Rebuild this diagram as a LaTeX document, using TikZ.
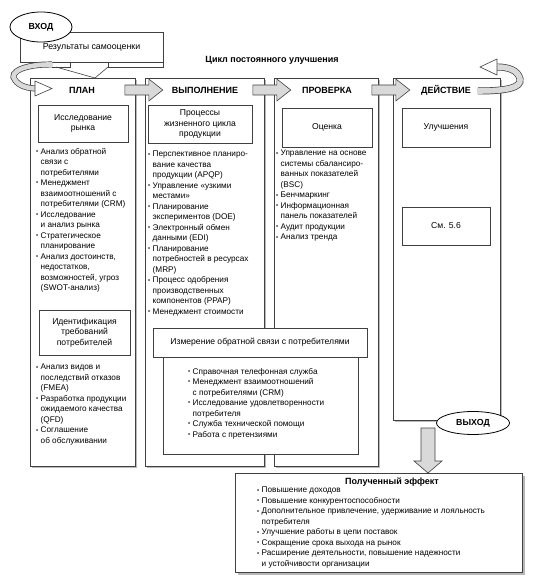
\documentclass[tikz,border=0pt]{standalone}
\usepackage{fontspec}
\setmainfont{Liberation Sans}
\usetikzlibrary{shapes.geometric,shadows,calc}

\newcommand{\bl}{\makebox[4.5pt][l]{\raisebox{.8pt}{\fontsize{6}{6}\selectfont\textbullet}}}
\newcommand{\nx}{\hspace*{4.5pt}}

\tikzset{
  box/.style={draw=black!75, fill=white, line width=.6pt, inner sep=0pt},
  colbox/.style={box, anchor=north west, line width=.8pt,
    drop shadow={shadow xshift=1.2pt, shadow yshift=-1.2pt, fill=black!45, opacity=.6}},
  inbox/.style={box, align=center, font=\fontsize{8.6}{10.4}\selectfont},
  head/.style={font=\fontsize{9}{10}\selectfont\bfseries},
  lst/.style={anchor=north west, inner sep=0pt, align=left, font=\fontsize{8.2}{10.5}\selectfont},
  garrow/.style={draw=black!75, fill=gray!30, line width=.6pt},
  oval/.style={ellipse, draw=black, fill=white, line width=.8pt, inner sep=0pt,
    font=\fontsize{8.8}{10}\selectfont\bfseries},
  garr/.pic={\draw[garrow] (0,-5) -- (24,-5) -- (24,-11) -- (38,0) -- (24,11) -- (24,5) -- (0,5) -- cycle;}
}

\begin{document}
\begin{tikzpicture}[x=1pt, y=-1pt]
  \useasboundingbox (0,0) rectangle (538,585);

  % columns
  \node[colbox, minimum width=105pt, minimum height=388pt] (plan) at (30,78) {};
  \node[colbox, minimum width=119pt, minimum height=388pt] (vyp) at (145,78) {};
  \node[colbox, minimum width=104pt, minimum height=388pt] (prov) at (274,78) {};
  \node[colbox, minimum width=107pt, minimum height=342pt] (deyst) at (393,78) {};

  \node[head] (planT) at (82,90) {ПЛАН};
  \node[head] (vypT) at (205,90) {ВЫПОЛНЕНИЕ};
  \node[head] (provT) at (327,90) {ПРОВЕРКА};
  \node[head] (deystT) at (446,90) {ДЕЙСТВИЕ};

  \pic at ([xshift=-11pt, yshift=-12pt]plan.north east) {garr};
  \pic at ([xshift=-12pt, yshift=-12pt]vyp.north east) {garr};
  \pic at ([xshift=-7pt, yshift=-12pt]prov.north east) {garr};

  \node[font=\fontsize{9}{10}\selectfont\bfseries] (cycle) at (272,60) {Цикл постоянного улучшения};

  % input
  \node[box, minimum width=143pt, minimum height=30pt, font=\fontsize{8.8}{10}\selectfont] (rez) at (91.5,47) {Результаты самооценки};
  \draw[black!75, line width=.6pt] (52,67) -- (70,67) -- (70,62);
  \draw[black!75, line width=.6pt] (108,62) -- (108,67) -- (163,67) -- (163,62);
  \draw[black!75, line width=.6pt] (56,67) -- (95,78) -- (108,67);
  \node[oval, minimum width=62pt, minimum height=30pt] (vhod) at (41,27) {ВХОД};

  % loop arrows
  \draw[line width=6pt, black!75] (52,64.5) .. controls (25,64) and (8,72) .. (15,80) .. controls (19,86) and (28,88.5) .. (37,88.5);
  \draw[line width=4.6pt, gray!30] (52.5,64.5) .. controls (25,64) and (8,72) .. (15,80) .. controls (19,86) and (28,88.5) .. (37,88.5);
  \draw[black!75, fill=white, line width=.6pt] (35,81) -- (52,88.5) -- (35,96) -- cycle;

  \draw[line width=7pt, black!75] (478,91) .. controls (505,91) and (522,88) .. (520,79) .. controls (518,70) and (508,67) .. (497,67);
  \draw[line width=5.6pt, gray!30] (477,91) .. controls (505,91) and (522,88) .. (520,79) .. controls (518,70) and (508,67) .. (497,67);
  \draw[black!75, fill=white, line width=.6pt] (497,59) -- (480,67) -- (497,75) -- cycle;

  % ПЛАН
  \node[inbox, minimum width=90pt, minimum height=37pt] (rynok) at (83,123.5) {Исследование\\рынка};
  \node[lst] (planL) at (36,148) {\bl Анализ обратной\\\nx связи с\\\nx потребителями\\\bl Менеджмент\\\nx взаимоотношений с\\\nx потребителями (CRM)\\\bl Исследование\\\nx и анализ рынка\\\bl Стратегическое\\\nx планирование\\\bl Анализ достоинств,\\\nx недостатков,\\\nx возможностей, угроз\\\nx (SWOT-анализ)};
  \node[inbox, minimum width=91pt, minimum height=45pt] (trebov) at (84.5,332.5) {Идентификация\\требований\\потребителей};
  \node[lst] (planL2) at (36,364) {\bl Анализ видов и\\\nx последствий отказов\\\nx (FMEA)\\\bl Разработка продукции\\\nx ожидаемого качества\\\nx (QFD)\\\bl Соглашение\\\nx об обслуживании};

  % ВЫПОЛНЕНИЕ
  \node[inbox, minimum width=104pt, minimum height=38pt] (proc) at (200,124) {Процессы\\жизненного цикла\\продукции};
  \node[lst] (vypL) at (148,151) {\bl Перспективное планиро-\\\nx вание качества\\\nx продукции (APQP)\\\bl Управление «узкими\\\nx местами»\\\bl Планирование\\\nx экспериментов (DOE)\\\bl Электронный обмен\\\nx данными (EDI)\\\bl Планирование\\\nx потребностей в ресурсах\\\nx (MRP)\\\bl Процесс одобрения\\\nx производственных\\\nx компонентов (PPAP)\\\bl Менеджмент стоимости};

  % ПРОВЕРКА
  \node[inbox, minimum width=90pt, minimum height=39pt] (ocenka) at (327,127.5) {Оценка};
  \node[lst] (provL) at (276,150) {\bl Управление на основе\\\nx системы сбалансиро-\\\nx ванных показателей\\\nx (BSC)\\\bl Бенчмаркинг\\\bl Информационная\\\nx панель показателей\\\bl Аудит продукции\\\bl Анализ тренда};

  % ДЕЙСТВИЕ
  \node[inbox, minimum width=88pt, minimum height=39pt] (uluch) at (446,127.5) {Улучшения};
  \node[inbox, minimum width=88pt, minimum height=38pt] (sm) at (446,226) {См. 5.6};

  % обратная связь
  \node[box, anchor=north west, minimum width=195pt, minimum height=97pt] (fbbox) at (163,357) {};
  \node[inbox, minimum width=214pt, minimum height=29pt] (izmer) at (260,342.5) {Измерение обратной связи с потребителями};
  \node[lst] (fbL) at (188,368) {\bl Справочная телефонная служба\\\bl Менеджмент взаимоотношений\\\nx с потребителями (CRM)\\\bl Исследование удовлетворенности\\\nx потребителя\\\bl Служба технической помощи\\\bl Работа с претензиями};

  % output
  \node[box, anchor=north west, minimum width=287pt, minimum height=99pt,
    drop shadow={shadow xshift=3pt, shadow yshift=-3pt, fill=black!40, opacity=.7}] (effekt) at (235,473) {};
  \node[head] (effT) at (392,482) {Полученный эффект};
  \node[lst] (effL) at (257,487) {\bl Повышение доходов\\\bl Повышение конкурентоспособности\\\bl Дополнительное привлечение, удерживание и лояльность\\\nx потребителя\\\bl Улучшение работы в цепи поставок\\\bl Сокращение срока выхода на рынок\\\bl Расширение деятельности, повышение надежности\\\nx и устойчивости организации};

  \draw[garrow] (421,428) -- (435,428) -- (435,461) -- (442,461) -- (428,473) -- (414,461) -- (421,461) -- cycle;
  \node[oval, minimum width=73pt, minimum height=23pt] (vyhod) at (473,423) {ВЫХОД};
\end{tikzpicture}
\end{document}
